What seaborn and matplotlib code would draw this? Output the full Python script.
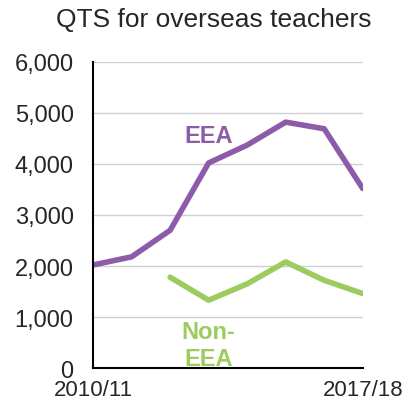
import matplotlib.pyplot as plt
import seaborn as sns
import pandas as pd
import numpy as np

# academic years, only first and last get labelled
years = ["2010/11", "2011/12", "2012/13", "2013/14", "2014/15", "2015/16", "2016/17", "2017/18"]
eea = [2020, 2180, 2700, 4020, 4370, 4820, 4690, 3520]
non_eea = [np.nan, np.nan, 1780, 1330, 1650, 2080, 1720, 1460]

purple = "#8E5BA8"
green = "#9CCB5E"

df = pd.DataFrame({"x": range(len(years)), "EEA": eea, "Non-EEA": non_eea})

sns.set_style("white")
plt.rcParams["font.family"] = ["Liberation Sans", "DejaVu Sans"]

fig, ax = plt.subplots(figsize=(4.03, 4.06), dpi=100)
fig.subplots_adjust(left=0.231, right=0.9, top=0.845, bottom=0.091)

sns.lineplot(data=df, x="x", y="EEA", color=purple, lw=4, ax=ax)
sns.lineplot(data=df.dropna(), x="x", y="Non-EEA", color=green, lw=4, ax=ax)

ax.set_xlim(0, 7)
ax.set_ylim(0, 6000)
ax.set_yticks(range(0, 6001, 1000))
ax.set_yticklabels([f"{v:,}" for v in range(0, 6001, 1000)], fontsize=17)
ax.set_xticks([0, 7])
ax.set_xticklabels([years[0], years[-1]], fontsize=16)
ax.tick_params(axis="y", length=0, pad=14)
ax.tick_params(axis="x", length=0, pad=8)
ax.set_xlabel("")
ax.set_ylabel("")
ax.grid(axis="y", color="#d0d0d0", lw=1)
ax.set_axisbelow(True)

for s in ["top", "right"]:
    ax.spines[s].set_visible(False)
for s in ["left", "bottom"]:
    ax.spines[s].set_color("black")
    ax.spines[s].set_linewidth(1.5)

ax.text(3.0, 4550, "EEA", color=purple, fontsize=17, fontweight="bold", ha="center", va="center")
ax.text(3.0, 450, "Non-\nEEA", color=green, fontsize=17, fontweight="bold", ha="center", va="center",
        linespacing=1.2)

fig.suptitle("QTS for overseas teachers", fontsize=19, x=0.53, y=0.95, va="center")

plt.savefig("out.png", dpi=100)
